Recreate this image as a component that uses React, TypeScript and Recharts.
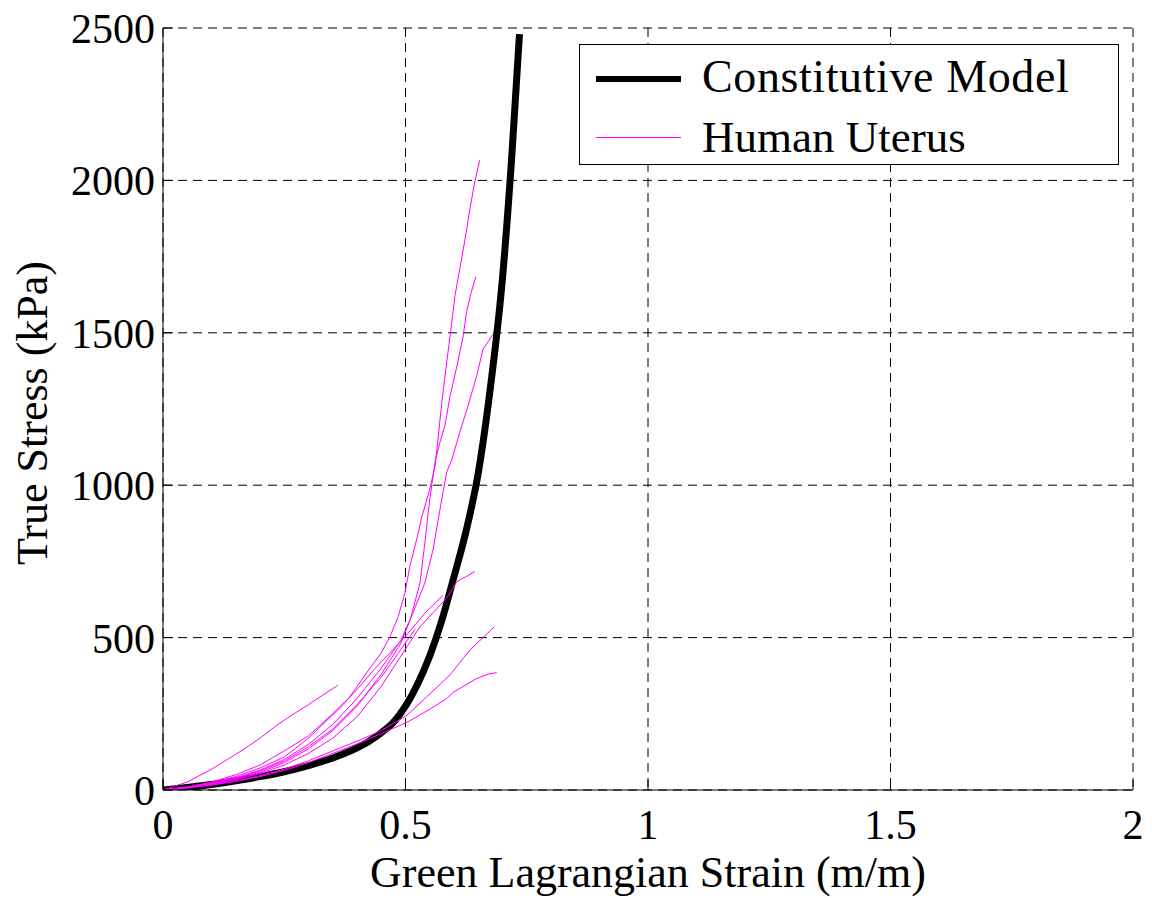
import React from 'react';
import { LineChart, Line, XAxis, YAxis, CartesianGrid, Legend } from 'recharts';

document.body.style.margin = '0';

const FONT = '"Liberation Serif", "Times New Roman", serif';
const MAGENTA = '#ff00ff';

const X_TICKS = [0, 0.5, 1, 1.5, 2];
const Y_TICKS = [0, 500, 1000, 1500, 2000, 2500];

// constitutive model fit (strain, stress kPa)
const MODEL = [
  [0, 0], [0.05, 8], [0.1, 18], [0.15, 30], [0.2, 44], [0.25, 60], [0.3, 80], [0.35, 105],
  [0.4, 138], [0.425, 160], [0.45, 188], [0.475, 222], [0.5, 275], [0.525, 348], [0.55, 440],
  [0.575, 557], [0.6, 700], [0.625, 850], [0.65, 1040], [0.675, 1320], [0.7, 1680],
  [0.72, 2100], [0.735, 2480],
];

// uterus specimens
const SPEC_A = [
  [0, 0], [0.05, 26], [0.1, 68], [0.165, 132], [0.2, 170], [0.234, 212], [0.27, 250],
  [0.3, 280], [0.33, 312], [0.36, 343],
];
const SPEC_B = [
  [0, 0], [0.05, 10], [0.1, 26], [0.15, 50], [0.2, 82], [0.25, 128], [0.3, 178], [0.35, 250],
  [0.385, 305], [0.42, 385], [0.45, 450], [0.468, 503], [0.485, 569], [0.499, 648],
  [0.509, 734], [0.523, 822], [0.534, 898], [0.55, 987], [0.561, 1063], [0.567, 1151],
  [0.575, 1273], [0.585, 1404], [0.592, 1490], [0.602, 1622], [0.612, 1711], [0.623, 1809],
  [0.633, 1908], [0.643, 1997], [0.653, 2066],
];
const SPEC_C = [
  [0, 0], [0.05, 9], [0.1, 22], [0.15, 40], [0.2, 65], [0.25, 100], [0.3, 150], [0.35, 215],
  [0.4, 300], [0.45, 400], [0.49, 490], [0.51, 560], [0.53, 680], [0.54, 812], [0.55, 954],
  [0.561, 1076], [0.571, 1141], [0.581, 1194], [0.592, 1293], [0.606, 1391], [0.619, 1490],
  [0.626, 1569], [0.635, 1630], [0.645, 1684],
];
const SPEC_D = [
  [0, 0], [0.05, 9], [0.1, 20], [0.15, 36], [0.2, 58], [0.25, 90], [0.3, 135], [0.35, 195],
  [0.4, 275], [0.45, 380], [0.49, 480], [0.515, 580], [0.54, 680], [0.557, 790], [0.571, 920],
  [0.585, 1043], [0.596, 1086], [0.612, 1174], [0.627, 1250], [0.647, 1360], [0.66, 1447],
  [0.67, 1470], [0.68, 1495],
];
const SPEC_E = [
  [0, 0], [0.05, 8], [0.1, 19], [0.15, 34], [0.2, 54], [0.25, 82], [0.3, 120], [0.35, 170],
  [0.4, 240], [0.45, 340], [0.503, 470], [0.53, 536], [0.557, 582], [0.585, 630],
  [0.606, 684], [0.625, 700], [0.643, 717],
];
const SPEC_F = [
  [0, 0], [0.05, 10], [0.1, 24], [0.15, 44], [0.2, 72], [0.25, 108], [0.3, 170], [0.365, 270],
  [0.4, 330], [0.435, 395], [0.468, 450], [0.503, 510], [0.54, 580], [0.577, 638],
];
const SPEC_G = [
  [0, 0], [0.05, 7], [0.1, 17], [0.15, 30], [0.2, 47], [0.25, 68], [0.3, 96], [0.35, 128],
  [0.406, 164], [0.45, 195], [0.503, 245], [0.544, 306], [0.592, 378], [0.633, 460],
  [0.66, 500], [0.683, 536],
];
const SPEC_H = [
  [0, 0], [0.05, 7], [0.1, 16], [0.15, 28], [0.2, 44], [0.25, 64], [0.3, 90], [0.35, 120],
  [0.406, 155], [0.45, 185], [0.503, 222], [0.55, 265], [0.585, 300], [0.598, 320],
  [0.647, 366], [0.67, 380], [0.688, 385],
];
const SPEC_I = [
  [0, 0], [0.05, 9], [0.1, 21], [0.15, 38], [0.2, 62], [0.25, 95], [0.3, 142], [0.35, 200],
  [0.4, 280], [0.45, 370], [0.49, 460], [0.52, 528],
];

const SPECIMENS = [SPEC_A, SPEC_B, SPEC_C, SPEC_D, SPEC_E, SPEC_F, SPEC_G, SPEC_H, SPEC_I];

const toPts = (pairs: number[][]) => pairs.map(([x, y]) => ({ x, y }));

const tickStyle = { fill: '#000', fontSize: 42, fontFamily: FONT };

function LegendBox() {
  const txt: React.CSSProperties = { position: 'absolute', left: 122, fontSize: 46, fontFamily: FONT, lineHeight: '46px', whiteSpace: 'nowrap' };
  return (
    <div style={{ position: 'relative', width: 538, height: 119, border: '1.5px solid #000', background: '#fff' }}>
      <div style={{ position: 'absolute', left: 16, top: 31, width: 85, height: 6, background: '#000' }} />
      <div style={{ ...txt, top: 9, letterSpacing: 0.6 }}>Constitutive Model</div>
      <div style={{ position: 'absolute', left: 16, top: 92, width: 85, height: 1, background: MAGENTA }} />
      <div style={{ ...txt, top: 69, fontSize: 45 }}>Human Uterus</div>
    </div>
  );
}

export default function App() {
  return (
    <LineChart width={1152} height={898} margin={{ top: 28, right: 19, bottom: 0, left: 0 }}>
      <CartesianGrid stroke="#000" strokeDasharray="9 6" strokeWidth={1} />
      <XAxis
        dataKey="x" type="number" domain={[0, 2]} ticks={X_TICKS} height={108}
        axisLine={{ stroke: '#000' }} tickLine={{ stroke: '#000' }} tickSize={-10} tickMargin={29}
        tick={tickStyle} allowDataOverflow
        label={{ value: 'Green Lagrangian Strain (m/m)', position: 'insideBottom', offset: 11, style: { fill: '#000', fontSize: 44, fontFamily: FONT } }}
      />
      <XAxis
        xAxisId="top" orientation="top" dataKey="x" type="number" domain={[0, 2]} ticks={X_TICKS} height={0}
        axisLine={{ stroke: '#000' }} tickLine={{ stroke: '#000' }} tickSize={-10} tickFormatter={() => ''}
      />
      <YAxis
        type="number" domain={[0, 2500]} ticks={Y_TICKS} width={163}
        axisLine={{ stroke: '#000' }} tickLine={{ stroke: '#000' }} tickSize={-10} tickMargin={18}
        tick={tickStyle} allowDataOverflow
        label={() => (
          <text x={47} y={413} transform="rotate(-90 47 413)" textAnchor="middle" fill="#000" fontSize={44} fontFamily={FONT}>
            True Stress (kPa)
          </text>
        )}
      />
      <YAxis
        yAxisId="right" orientation="right" type="number" domain={[0, 2500]} ticks={Y_TICKS} width={0}
        axisLine={{ stroke: '#000' }} tickLine={{ stroke: '#000' }} tickSize={-10} tickFormatter={() => ''}
      />
      <Legend
        layout="vertical" align="center" verticalAlign="middle"
        wrapperStyle={{ top: 44, left: 579, width: 540, height: 121 }}
        content={() => <LegendBox />}
      />
      <Line
        data={toPts(MODEL)} dataKey="y" name="Constitutive Model" type="monotone"
        stroke="#000" strokeWidth={7} dot={false} isAnimationActive={false}
      />
      {SPECIMENS.map((s, i) => (
        <Line
          key={i} data={toPts(s)} dataKey="y" name={i === 0 ? 'Human Uterus' : `Human Uterus ${i}`}
          type="linear" stroke={MAGENTA} strokeWidth={1} dot={false} isAnimationActive={false}
          legendType="none"
        />
      ))}
    </LineChart>
  );
}
